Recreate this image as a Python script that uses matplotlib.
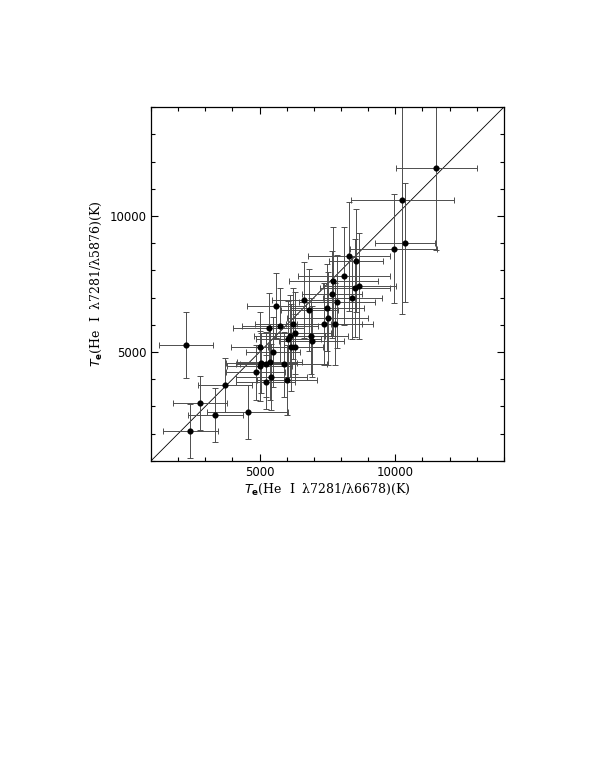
import matplotlib
matplotlib.use("Agg")
from matplotlib import pyplot as plt
from matplotlib.ticker import MultipleLocator

# Te from He I 7281/6678 (x) vs He I 7281/5876 (y), with errors
te_6678 = [2290, 2450, 2800, 3370, 3720, 4560, 4850, 5010, 5060, 5010,
           5220, 5220, 5370, 5430, 5500, 5330, 5620, 5760, 5890, 6010,
           6060, 6110, 6160, 6220, 6320, 6320, 6650, 6830, 6900, 6920,
           7370, 7490, 7510, 7660, 7720, 7780, 7840, 8120, 8300, 8420,
           8510, 8560, 8680, 9940, 10260, 10370, 11510]
te_5876 = [5260, 2100, 3120, 2690, 3790, 2800, 4250, 4490, 4610, 5180,
           4550, 3900, 4630, 4080, 5000, 5870, 6700, 5970, 4550, 3970,
           5470, 5590, 5180, 6040, 5180, 5710, 6900, 6540, 5590, 5390,
           6040, 6630, 6240, 7120, 7600, 6020, 6850, 7790, 8520, 6990,
           7340, 8360, 7420, 8790, 10580, 9020, 11750]
err_6678 = [1000, 1000, 1000, 1000, 1000, 1500, 1100, 1200, 1300, 1050,
            1100, 1100, 1200, 1300, 1000, 1300, 1100, 1400, 1600, 1100,
            1200, 1300, 1200, 1400, 1000, 1300, 1200, 1050, 1350, 1200,
            1400, 1350, 1500, 1100, 1650, 1400, 1400, 1700, 1500, 1100,
            1300, 1000, 1350, 1600, 1900, 1100, 1500]
err_5876 = [1200, 1000, 1000, 1000, 1000, 1000, 1000, 1300, 1100, 1300,
            1200, 1000, 1400, 1200, 1300, 1300, 1200, 1400, 1200, 1300,
            1400, 1500, 1600, 1300, 1200, 1500, 1400, 1500, 1400, 1300,
            1500, 1600, 1700, 1600, 2000, 1500, 1700, 1800, 2000, 1500,
            1800, 1900, 1950, 2000, 4200, 2200, 3000]

lims = [1000, 14000]

fig = plt.figure(figsize=(5.9, 7.63), dpi=100)
ax = fig.add_axes([0.256, 0.396, 0.598, 0.4636])

ax.plot(lims, lims, '-k', lw=0.6)
ax.errorbar(te_6678, te_5876, xerr=err_6678, yerr=err_5876, fmt='o',
            color='k', ms=3.4, ecolor='0.3', elinewidth=0.7,
            capsize=2.3, capthick=0.7)

ax.set_xlim(lims)
ax.set_ylim(lims)
ax.xaxis.set_major_locator(MultipleLocator(5000))
ax.xaxis.set_minor_locator(MultipleLocator(1000))
ax.yaxis.set_major_locator(MultipleLocator(5000))
ax.yaxis.set_minor_locator(MultipleLocator(1000))
ax.tick_params(which='both', direction='in', top=True, right=True,
               labelsize=8.5, width=0.8)
ax.tick_params(which='major', length=5)
ax.tick_params(which='minor', length=3)
for s in ax.spines.values():
    s.set_linewidth(0.9)

plt.rcParams['mathtext.fontset'] = 'dejavuserif'
ax.set_xlabel(r'$T_{\mathbf{e}}$(He  I  λ7281/λ6678)(K)',
              family='DejaVu Serif', fontsize=9, labelpad=2)
ax.set_ylabel(r'$T_{\mathbf{e}}$(He  I  λ7281/λ5876)(K)',
              family='DejaVu Serif', fontsize=9, labelpad=4)

fig.savefig("out.png", dpi=100)
